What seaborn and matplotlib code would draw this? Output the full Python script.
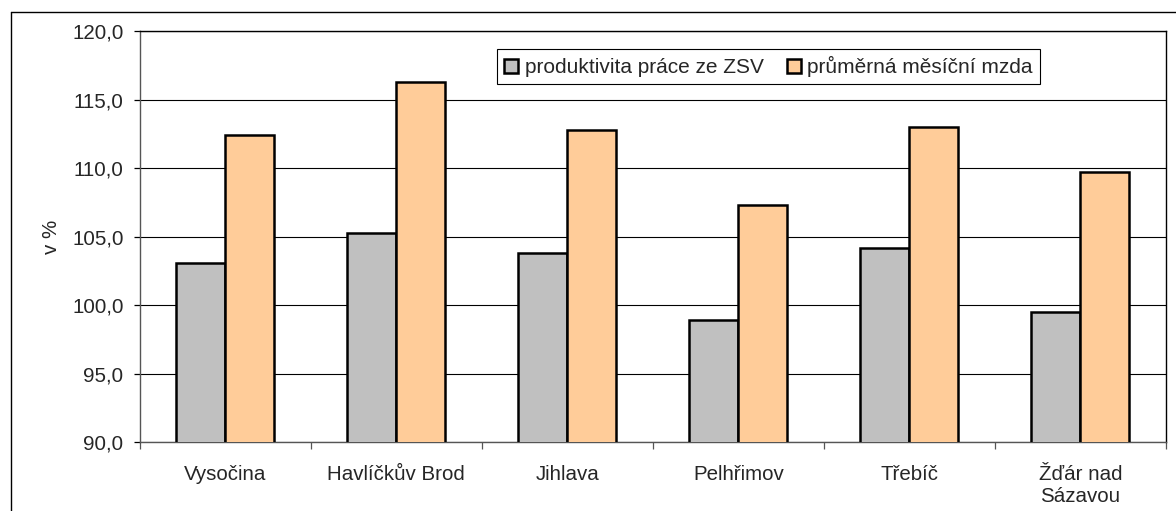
import seaborn as sns
import matplotlib.pyplot as plt
import matplotlib.ticker as mticker
import pandas as pd
from matplotlib.lines import Line2D

# okresy kraje Vysočina
okresy = ['Vysočina', 'Havlíčkův Brod', 'Jihlava', 'Pelhřimov', 'Třebíč', 'Žďár nad\nSázavou']
produktivita = [103.1, 105.3, 103.8, 98.9, 104.2, 99.5]
mzda = [112.4, 116.3, 112.8, 107.3, 113.0, 109.7]
serie = ['produktivita práce ze ZSV', 'průměrná měsíční mzda']
barvy = ['#C0C0C0', '#FFCC99']
y_ticks = [90, 95, 100, 105, 110, 115, 120]

df = pd.DataFrame({
    'okres': okresy * 2,
    'hodnota': produktivita + mzda,
    'serie': [serie[0]] * len(okresy) + [serie[1]] * len(okresy),
})

sns.set_style('white')
plt.rcParams['font.family'] = ['Liberation Sans', 'DejaVu Sans']

fig = plt.figure(figsize=(11.76, 5.11), dpi=100)
ax = fig.add_axes([139.5 / 1176, 1 - 442.3 / 511, (1166 - 139.5) / 1176, (442.3 - 31) / 511])

sns.barplot(data=df, x='okres', y='hodnota', hue='serie', order=okresy,
            hue_order=serie, palette=barvy, width=0.573, edgecolor='black',
            linewidth=1.8, saturation=1, ax=ax, zorder=3)

ax.set_ylim(90, 120)
ax.set_xlim(-0.5, len(okresy) - 0.5)
ax.set_yticks(y_ticks)
ax.yaxis.set_major_formatter(mticker.FuncFormatter(lambda v, p: f'{v:.1f}'.replace('.', ',')))
ax.grid(axis='y', color='black', linewidth=0.8, zorder=0)
ax.set_axisbelow(True)

# tick marks between categories
ax.set_xticks([i - 0.5 for i in range(len(okresy) + 1)], minor=True)
ax.tick_params(axis='x', which='major', length=0, pad=16, labelsize=14.8)
ax.tick_params(axis='x', which='minor', length=5, width=0.9, color='#555555', direction='out', bottom=True)
ax.tick_params(axis='y', length=4.5, width=0.9, color='black', direction='out', left=True, pad=7, labelsize=14.8)
for lbl in ax.get_xticklabels():
    lbl.set_linespacing(1.25)

for s in ax.spines.values():
    s.set_color('black')
    s.set_linewidth(1.0)
ax.spines['left'].set_color('#555555')
ax.spines['bottom'].set_color('#555555')

ax.set_xlabel('')
ax.set_ylabel('v %', fontsize=14.8, labelpad=8)

handles = [plt.Rectangle((0, 0), 1, 1, facecolor=c, edgecolor='black', linewidth=1.8) for c in barvy]
ax.legend(handles, serie, ncol=2, loc='upper left',
          bbox_to_anchor=(497 / 1176, 1 - 49.5 / 511), bbox_transform=fig.transFigure,
          borderaxespad=0, fancybox=False, framealpha=1, edgecolor='black',
          fontsize=15, handlelength=0.7, handleheight=0.7, handletextpad=0.3,
          columnspacing=1.1, borderpad=0.33)
ax.get_legend().get_frame().set_linewidth(0.8)

# outer chart frame (only left and top visible)
fig.add_artist(Line2D([11 / 1176, 11 / 1176], [0, 1 - 12.5 / 511], transform=fig.transFigure, color='black', linewidth=1.0))
fig.add_artist(Line2D([11 / 1176, 1], [1 - 12.5 / 511, 1 - 12.5 / 511], transform=fig.transFigure, color='black', linewidth=1.0))

fig.savefig('out.png', dpi=100)
